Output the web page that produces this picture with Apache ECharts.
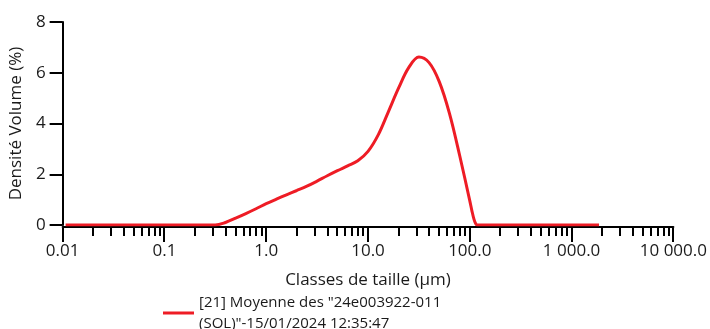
<!DOCTYPE html>
<html>
<head>
<meta charset="utf-8">
<script src="https://cdn.jsdelivr.net/npm/echarts@6/dist/echarts.min.js"></script>
<style>
  html, body { margin: 0; padding: 0; background: #fff; }
  #chart { width: 710px; height: 329px; }
</style>
</head>
<body>
<div id="chart"></div>
<script>
// Particle size classes (µm) and volume density (%)
const sizeClasses = [0.0107, 0.1, 0.316, 0.398, 0.501, 0.631, 0.794, 1.0, 1.26, 1.58, 2.0, 2.51, 3.16, 3.98, 5.01, 6.31, 7.94, 10.0, 12.6, 15.8, 20.0, 25.1, 31.6, 39.8, 50.1, 63.1, 79.4, 100, 105, 110, 114, 118, 126, 1860];
const densityVolume = [0, 0, 0, 0.10, 0.27, 0.45, 0.64, 0.84, 1.02, 1.19, 1.36, 1.53, 1.73, 1.94, 2.14, 2.33, 2.53, 2.90, 3.55, 4.45, 5.40, 6.20, 6.62, 6.40, 5.65, 4.40, 2.75, 0.95, 0.55, 0.22, 0.06, 0, 0, 0];

// Axis ticks and labels
const decadeTicks = [0.01, 0.1, 1, 10, 100, 1000, 10000];
const decadeLabels = ['0.01', '0.1', '1.0', '10.0', '100.0', '1 000.0', '10 000.0'];
const minorTicks = [];
decadeTicks.slice(0, -1).forEach(d => { for (let k = 2; k <= 9; k++) minorTicks.push(d * k); });
const yTicks = [0, 2, 4, 6, 8];

const seriesName = '[21] Moyenne des "24e003922-011 (SOL)"-15/01/2024 12:35:47';
const legendLines = ['[21] Moyenne des "24e003922-011', '(SOL)"-15/01/2024 12:35:47'];

const FONT = '"Open Sans", "Noto Sans", sans-serif';
const TEXT = '#1a1a1a';
const RED = '#ee1c25';
const X_AXIS_OFFSET = 2;

const chart = echarts.init(document.getElementById('chart'), null, { renderer: 'canvas' });

chart.setOption({
  animation: false,
  backgroundColor: '#fff',
  textStyle: { fontFamily: FONT },
  grid: { left: 62, right: 34, top: 22, bottom: 104, containLabel: false },
  legend: {
    left: 158,
    top: 287,
    icon: 'rect',
    itemWidth: 31,
    itemHeight: 3,
    textStyle: { fontFamily: FONT, fontSize: 15, color: TEXT, lineHeight: 21 },
    formatter: () => legendLines.join('\n'),
    data: [seriesName]
  },
  xAxis: {
    type: 'log',
    logBase: 10,
    min: 0.01,
    max: 10000,
    position: 'bottom',
    offset: X_AXIS_OFFSET,
    name: 'Classes de taille (µm)',
    nameLocation: 'middle',
    nameGap: 45,
    nameTextStyle: { fontFamily: FONT, fontSize: 17, color: TEXT },
    axisLine: { show: true, onZero: false, lineStyle: { color: '#000', width: 2 } },
    axisTick: { show: false },
    axisLabel: {
      margin: 16,
      fontFamily: FONT,
      fontSize: 17,
      color: TEXT,
      formatter: v => {
        const i = decadeTicks.findIndex(d => Math.abs(Math.log10(d) - Math.log10(v)) < 1e-6);
        return i >= 0 ? decadeLabels[i] : '';
      }
    },
    splitLine: { show: false }
  },
  yAxis: {
    type: 'value',
    min: 0,
    max: 8,
    interval: 2,
    name: 'Densité Volume (%)',
    nameLocation: 'middle',
    nameGap: 33,
    nameTextStyle: { fontFamily: FONT, fontSize: 17, color: TEXT },
    axisLine: { show: true, lineStyle: { color: '#000', width: 2 } },
    axisTick: { show: true, inside: false, length: 13, lineStyle: { color: '#000', width: 2 } },
    axisLabel: {
      margin: 17,
      fontFamily: FONT,
      fontSize: 17,
      color: TEXT,
      formatter: v => (yTicks.includes(v) ? String(v) : '')
    },
    splitLine: { show: false }
  },
  series: [{
    name: seriesName,
    type: 'line',
    data: sizeClasses.map((x, i) => [x, densityVolume[i]]),
    smooth: 0.35,
    showSymbol: false,
    symbol: 'none',
    lineStyle: { color: RED, width: 3 },
    itemStyle: { color: RED }
  }]
});

// Log-axis tick marks: long at each decade, short in between, placed through the axis scale
const axisY = chart.convertToPixel({ yAxisIndex: 0 }, 0) + X_AXIS_OFFSET + 1;
const tickMark = (value, length) => {
  const x = Math.round(chart.convertToPixel({ xAxisIndex: 0 }, value));
  return {
    type: 'line',
    silent: true,
    shape: { x1: x, y1: axisY, x2: x, y2: axisY + length },
    style: { stroke: '#000', lineWidth: 2 }
  };
};
chart.setOption({
  graphic: decadeTicks.map(v => tickMark(v, 14)).concat(minorTicks.map(v => tickMark(v, 8)))
});
</script>
</body>
</html>
